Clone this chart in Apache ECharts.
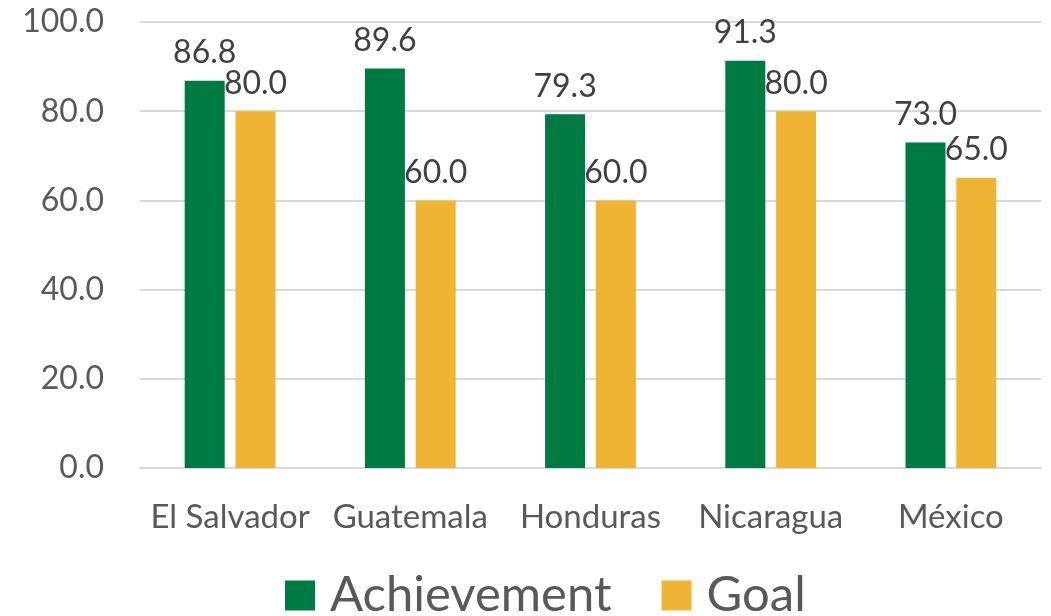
<!DOCTYPE html>
<html>
<head>
<meta charset="utf-8">
<script src="https://cdn.jsdelivr.net/npm/echarts@6/dist/echarts.min.js"></script>
<style>
  html, body { margin: 0; padding: 0; background: #ffffff; }
  #chart { width: 1051px; height: 616px; }
</style>
</head>
<body>
<div id="chart"></div>
<script>
// Countries and their achievement vs. goal scores
const countries = ['El Salvador', 'Guatemala', 'Honduras', 'Nicaragua', 'México'];
const achievement = [86.8, 89.6, 79.3, 91.3, 73.0];
const goal = [80.0, 60.0, 60.0, 80.0, 65.0];
const yTicks = { min: 0, max: 100, interval: 20 };

const FONT = 'Lato';
const TEXT = '#595959';

const chart = echarts.init(document.getElementById('chart'));

const labelStyle = {
  show: true,
  position: 'top',
  distance: 12,
  fontFamily: FONT,
  fontSize: 32,
  color: '#404040',
  formatter: p => p.value.toFixed(1)
};

chart.setOption({
  animation: false,
  textStyle: { fontFamily: FONT },
  grid: { left: 140, right: 10, top: 22, bottom: 148 },
  legend: {
    top: 566,
    left: 280,
    itemWidth: 30,
    itemHeight: 30,
    itemGap: 50,
    icon: 'rect',
    textStyle: { fontFamily: FONT, fontSize: 49, color: TEXT, padding: [0, 0, 0, 10] },
    data: ['Achievement', 'Goal']
  },
  xAxis: {
    type: 'category',
    data: countries,
    axisLine: { lineStyle: { color: '#d9d9d9', width: 2 } },
    axisTick: { show: false },
    axisLabel: { fontFamily: FONT, fontSize: 33, color: TEXT, margin: 33, interval: 0 }
  },
  yAxis: {
    type: 'value',
    min: yTicks.min,
    max: yTicks.max,
    interval: yTicks.interval,
    axisLine: { show: false },
    axisTick: { show: false },
    splitLine: { lineStyle: { color: '#d9d9d9', width: 2 } },
    axisLabel: {
      fontFamily: FONT, fontSize: 32, color: TEXT, margin: 36,
      formatter: v => v.toFixed(1)
    }
  },
  series: [
    {
      name: 'Achievement',
      type: 'bar',
      data: achievement,
      barWidth: 40,
      barGap: '27%',
      itemStyle: { color: '#007a43' },
      label: labelStyle
    },
    {
      name: 'Goal',
      type: 'bar',
      data: goal,
      barWidth: 40,
      itemStyle: { color: '#f0b434' },
      label: labelStyle
    }
  ]
});
</script>
</body>
</html>
